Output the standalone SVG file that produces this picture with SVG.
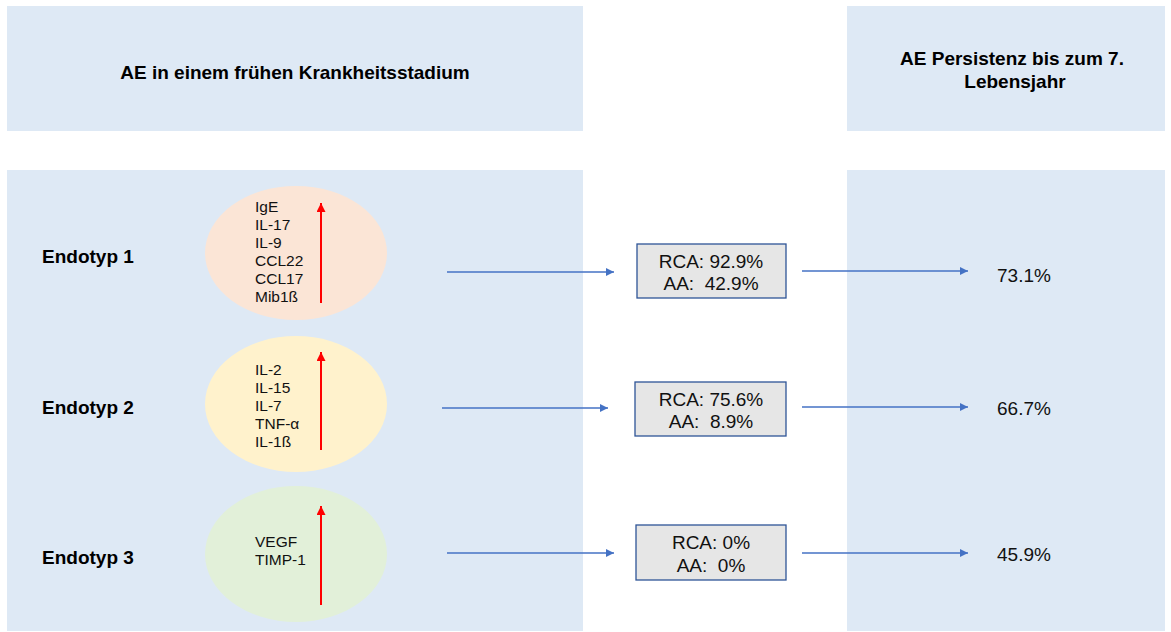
<svg xmlns="http://www.w3.org/2000/svg" width="1171" height="632" viewBox="0 0 1171 632">
<style>
.panel{fill:#DEE9F5}
.hd{font-family:"Liberation Sans",Arial,sans-serif;font-weight:bold;font-size:19px;fill:#000}
.lbl{font-family:"Liberation Sans",Arial,sans-serif;font-weight:bold;font-size:19px;fill:#000}
.cy{font-family:"Liberation Sans",Arial,sans-serif;font-size:15.5px;fill:#111}
.box{fill:#E6E6E6;stroke:#2F5597;stroke-width:1.3}
.bt{font-family:"Liberation Sans",Arial,sans-serif;font-size:19px;fill:#111;text-anchor:middle}
.pc{font-family:"Liberation Sans",Arial,sans-serif;font-size:19px;fill:#111}
.blue{stroke:#4472C4;stroke-width:1.5;fill:none}
.red{stroke:#FF0000;stroke-width:2;fill:none}
</style>
<defs>
<marker id="ab" viewBox="0 0 10 10" refX="10" refY="5" markerWidth="10" markerHeight="8" markerUnits="userSpaceOnUse" orient="auto"><path d="M0,0 L10,5 L0,10 z" fill="#4472C4"/></marker>
<marker id="ar" viewBox="0 0 10 10" refX="10" refY="5" markerWidth="10" markerHeight="9" markerUnits="userSpaceOnUse" orient="auto"><path d="M0,0 L10,5 L0,10 z" fill="#FF0000"/></marker>
</defs>
<g id="panels">
<rect class="panel" x="7" y="6" width="576" height="125"/>
<rect class="panel" x="847" y="6" width="318" height="125"/>
<rect class="panel" x="7" y="170" width="576" height="461"/>
<rect class="panel" x="847" y="170" width="318" height="461"/>
</g>
<g id="header-left"><text class="hd" x="295" y="79" text-anchor="middle">AE in einem frühen Krankheitsstadium</text></g>
<g id="header-right"><text class="hd" x="1012" y="65" text-anchor="middle">AE Persistenz bis zum 7.</text><text class="hd" x="1015" y="88" text-anchor="middle">Lebensjahr</text></g>
<g id="endotyp1-label"><text class="lbl" x="42" y="263">Endotyp 1</text></g>
<g id="endotyp2-label"><text class="lbl" x="42" y="414">Endotyp 2</text></g>
<g id="endotyp3-label"><text class="lbl" x="42" y="564">Endotyp 3</text></g>
<g id="ellipse1">
<ellipse cx="296" cy="253" rx="91" ry="67" fill="#FBE5D6"/>
<text class="cy" x="255" y="212">IgE</text>
<text class="cy" x="255" y="230">IL-17</text>
<text class="cy" x="255" y="248">IL-9</text>
<text class="cy" x="255" y="266">CCL22</text>
<text class="cy" x="255" y="284">CCL17</text>
<text class="cy" x="255" y="302">Mib1ß</text>
</g>
<g id="ellipse2">
<ellipse cx="296" cy="404" rx="91" ry="68" fill="#FFF2CC"/>
<text class="cy" x="255" y="375">IL-2</text>
<text class="cy" x="255" y="393">IL-15</text>
<text class="cy" x="255" y="411">IL-7</text>
<text class="cy" x="255" y="429">TNF-α</text>
<text class="cy" x="255" y="447">IL-1ß</text>
</g>
<g id="ellipse3">
<ellipse cx="296" cy="554" rx="91" ry="68" fill="#E2F0D9"/>
<text class="cy" x="255" y="547">VEGF</text>
<text class="cy" x="255" y="565">TIMP-1</text>
</g>
<g id="box1"><rect class="box" x="637" y="244" width="149" height="54"/><text class="bt" x="711" y="268">RCA: 92.9%</text><text class="bt" x="711" y="290" xml:space="preserve">AA:  42.9%</text></g>
<g id="box2"><rect class="box" x="635" y="382" width="151" height="54"/><text class="bt" x="711" y="406">RCA: 75.6%</text><text class="bt" x="711" y="428" xml:space="preserve">AA:  8.9%</text></g>
<g id="box3"><rect class="box" x="636" y="525" width="150" height="55"/><text class="bt" x="711" y="549">RCA: 0%</text><text class="bt" x="711" y="572" xml:space="preserve">AA:  0%</text></g>
<g id="result1"><text class="pc" x="997" y="282">73.1%</text></g>
<g id="result2"><text class="pc" x="997" y="415">66.7%</text></g>
<g id="result3"><text class="pc" x="997" y="561">45.9%</text></g>
<g id="connectors">
<line class="red" x1="321" y1="303" x2="321" y2="203" marker-end="url(#ar)"/>
<line class="red" x1="321" y1="450" x2="321" y2="352" marker-end="url(#ar)"/>
<line class="red" x1="321" y1="605" x2="321" y2="506" marker-end="url(#ar)"/>
<line class="blue" x1="447" y1="272" x2="614" y2="272" marker-end="url(#ab)"/>
<line class="blue" x1="442" y1="408" x2="608" y2="408" marker-end="url(#ab)"/>
<line class="blue" x1="447" y1="553" x2="614" y2="553" marker-end="url(#ab)"/>
<line class="blue" x1="802" y1="271" x2="968" y2="271" marker-end="url(#ab)"/>
<line class="blue" x1="802" y1="407" x2="968" y2="407" marker-end="url(#ab)"/>
<line class="blue" x1="802" y1="553" x2="968" y2="553" marker-end="url(#ab)"/>
</g>
</svg>
